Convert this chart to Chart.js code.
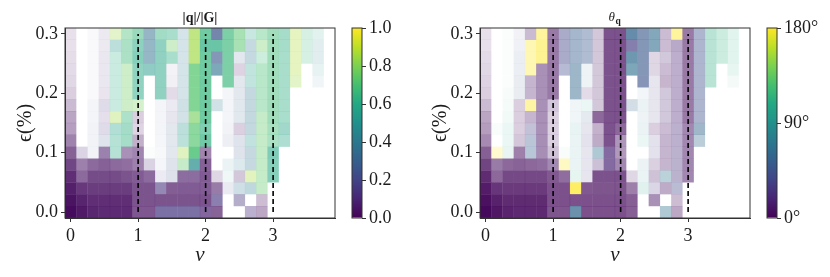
<!DOCTYPE html>
<html><head><meta charset="utf-8">
<script src="https://cdn.jsdelivr.net/npm/chart.js@4"></script>
<style>
html,body{margin:0;padding:0;background:#fff;width:830px;height:277px;overflow:hidden}
canvas{position:absolute;top:0}
</style></head><body>
<canvas id="c1" style="left:0" width="345" height="268"></canvas>
<canvas id="b1" style="left:340px" width="90" height="277"></canvas>
<canvas id="c2" style="left:415px" width="345" height="268"></canvas>
<canvas id="b2" style="left:755px" width="75" height="277"></canvas>
<script>
const _ = null;
const nuValues = [0,0.1667,0.3333,0.5,0.6667,0.8333,1,1.1667,1.3333,1.5,1.6667,1.8333,2,2.1667,2.3333,2.5,2.6667,2.8333,3,3.1667,3.3333,3.5,3.6667,3.8333];
const epsValues = [0.30,0.28,0.26,0.24,0.22,0.20,0.18,0.16,0.14,0.12,0.10,0.08,0.06,0.04,0.02,0.00];
const nuTicks = [0,1,2,3];
const epsTicks = [0,0.1,0.2,0.3];
const epsilonHalfStep = 0.01;
const dashedNu = [1,2,3];
const dashedEps = [0,0.3];

// |q|/|G| in hundredths, top row (epsilon = 0.30) first
const ratioValues = [
[3,_,10,10,85,70,65,36,64,62,40,85,65,25,66,72,57,70,68,62,87,66,57,_],
[3,_,10,10,52,67,60,37,58,77,40,85,62,62,66,72,40,77,68,62,87,66,42,_],
[3,_,10,10,63,67,60,37,58,62,40,85,65,27,66,25,40,66,68,62,87,66,42,_],
[3,_,10,10,63,77,60,53,58,10,40,72,65,38,66,3,55,70,68,62,87,_,45,_],
[3,_,10,10,63,77,60,_,58,10,40,72,65,_,66,25,55,70,68,62,85,_,42,_],
[3,_,10,10,63,77,60,_,58,3,40,72,65,_,25,25,38,70,68,62,_,_,_,_],
[3,_,25,12,63,77,78,_,25,15,40,72,65,42,25,32,38,70,68,62,_,_,_,_],
[3,_,25,12,85,65,3,_,25,15,40,78,65,_,25,32,38,74,68,62,_,_,_,_],
[3,_,25,12,58,63,5,_,25,25,52,72,63,_,25,5,38,74,68,58,_,_,_,_],
[3,_,25,25,60,63,3,_,25,25,55,72,63,_,25,25,53,74,68,58,_,_,_,_],
[3,12,25,6,60,5,6,50,25,25,85,70,3,_,_,25,38,74,60,_,_,_,_,_],
[3,4,4,4,4,4,4,10,25,25,74,48,4,_,42,42,38,74,60,_,_,_,_,_],
[3,4,3,3,3,3,4,4,15,25,5,5,4,5,50,5,87,74,60,_,_,_,_,_],
[3,3,3,3,3,3,3,3,15,4,4,4,4,4,20,40,42,74,_,_,_,_,_,_],
[3,3,3,3,3,3,3,3,3,3,3,3,3,15,_,15,_,3,_,_,_,_,_,_],
[3,3,3,3,3,3,3,3,15,15,15,15,8,4,_,_,12,3,_,_,_,_,_,_]
];
// share of the domain showing this value, in percent
const ratioShare = [
[12,0,3,10,27,40,50,50,45,40,20,63,70,70,65,50,25,38,48,42,30,20,13,0],
[12,0,3,10,30,42,52,50,50,33,20,63,70,70,65,50,28,33,48,42,30,20,14,0],
[14,0,3,11,25,42,55,50,50,40,20,63,70,62,65,14,28,25,48,40,30,20,14,0],
[15,0,3,11,25,33,50,50,50,6,20,70,70,62,65,18,28,38,48,40,30,0,11,0],
[16,0,3,11,25,33,50,0,50,7,20,70,70,0,65,14,28,38,48,40,28,0,7,0],
[20,0,3,12,25,33,50,0,50,15,20,70,70,0,6,14,28,38,48,40,0,0,0,0],
[28,0,6,17,25,33,30,0,6,11,22,70,70,22,6,15,28,38,48,40,0,0,0,0],
[37,0,6,15,32,40,20,0,6,13,21,60,70,0,6,15,28,35,48,40,0,0,0,0],
[40,0,7,17,35,43,18,0,6,14,30,65,60,0,7,20,28,35,45,42,0,0,0,0],
[51,0,7,16,33,42,33,0,5,14,30,65,67,0,9,16,28,35,42,37,0,0,0,0],
[65,20,7,54,33,47,52,2,4,14,32,80,50,0,0,16,27,35,58,0,0,0,0,0],
[76,53,62,66,62,60,53,20,5,16,35,70,66,0,9,16,27,35,55,0,0,0,0,0],
[86,62,74,74,74,71,68,62,10,17,62,62,68,17,7,24,32,35,55,0,0,0,0,0],
[92,82,80,80,80,80,71,71,58,67,68,68,68,55,11,23,30,35,0,0,0,0,0,0],
[97,90,86,86,86,86,71,71,71,71,71,71,71,63,0,40,0,27,0,0,0,0,0,0],
[100,94,89,87,87,87,69,69,70,70,70,70,68,65,0,0,37,36,0,0,0,0,0,0]
];
// theta_q in degrees
const angleValues = [
[5,_,90,27,5,180,5,36,54,49,9,4,4,59,49,63,7,180,5,45,113,113,113,_],
[5,_,90,45,180,180,5,36,54,49,9,4,4,31,49,63,7,14,5,45,113,113,113,_],
[5,_,90,49,180,180,5,36,54,49,9,4,4,63,49,9,18,18,5,45,113,113,113,_],
[5,_,90,49,180,9,5,40,59,68,9,4,4,67,49,9,7,18,5,45,113,_,113,_],
[5,_,90,49,7,9,5,_,59,68,9,4,4,_,45,31,5,18,5,45,113,_,113,_],
[5,_,113,49,7,9,5,_,59,5,9,4,4,_,63,31,18,18,5,45,_,_,_,_],
[5,_,108,5,180,9,14,_,68,108,9,4,4,59,76,31,18,18,5,45,_,_,_,_],
[5,_,108,5,7,9,9,_,68,50,5,4,4,_,72,31,18,18,5,45,_,_,_,_],
[5,108,108,5,32,9,9,_,90,31,7,4,5,_,76,5,7,20,7,59,_,_,_,_],
[5,_,108,5,50,9,9,_,80,31,7,4,7,_,108,31,7,20,7,59,_,_,_,_],
[4,180,99,5,54,9,9,90,80,31,68,18,5,_,_,31,7,23,7,_,_,_,_,_],
[4,7,5,5,5,5,9,180,80,31,14,18,7,_,76,9,7,23,7,_,_,_,_,_],
[4,5,4,4,4,4,4,5,108,31,4,4,4,9,80,9,68,23,7,_,_,_,_,_],
[4,4,4,4,4,4,4,4,180,4,4,4,4,4,99,27,7,36,_,_,_,_,_,_],
[4,4,4,4,4,4,4,4,4,4,4,4,4,4,_,9,_,5,_,_,_,_,_,_],
[4,4,4,4,4,4,4,4,59,4,4,4,4,4,_,_,63,5,_,_,_,_,_,_]
];
const angleShare = [
[12,0,2,7,28,45,55,45,45,40,24,70,70,75,62,60,28,45,55,42,33,24,14,0],
[12,0,2,8,35,50,55,45,45,40,24,70,70,65,62,60,28,38,55,42,33,24,14,0],
[15,0,2,10,35,50,55,45,45,40,24,70,70,70,62,17,25,37,55,42,33,24,14,0],
[16,0,2,10,35,47,55,38,48,8,24,70,70,62,62,17,28,37,55,42,33,0,11,0],
[18,0,2,11,31,47,55,0,48,8,24,70,70,0,62,13,30,37,55,42,33,0,6,0],
[20,0,4,11,31,47,55,0,48,15,24,70,70,0,6,13,25,37,55,42,0,0,0,0],
[28,0,5,20,42,47,25,0,7,9,24,70,70,22,9,13,25,37,55,42,0,0,0,0],
[37,0,6,20,31,47,20,0,7,13,62,70,70,0,8,13,25,37,55,42,0,0,0,0],
[40,3,9,20,32,47,20,0,10,13,32,70,62,0,9,20,28,37,50,47,0,0,0,0],
[48,0,9,23,35,48,20,0,9,14,35,70,44,0,9,15,31,37,50,33,0,0,0,0],
[65,22,10,52,35,48,26,3,9,13,38,68,42,0,0,15,31,37,50,0,0,0,0,0],
[76,55,62,64,62,60,50,28,9,13,28,68,50,0,9,20,31,37,50,0,0,0,0,0],
[86,62,74,74,74,74,68,60,11,13,70,70,70,17,9,26,32,37,50,0,0,0,0,0],
[92,82,80,80,80,80,71,71,70,68,69,69,69,52,14,20,35,36,0,0,0,0,0,0],
[97,90,86,86,86,86,71,71,71,71,71,71,71,65,0,47,0,27,0,0,0,0,0,0],
[100,94,89,87,87,87,69,69,72,71,71,71,71,65,0,0,38,36,0,0,0,0,0,0]
];
const ratioBarTicks = [0,0.2,0.4,0.6,0.8,1];
const angleBarTicks = [0,90,180];

const viridis = ['#440154','#482475','#414487','#355f8d','#2a788e','#21918c','#22a884','#44bf70','#7ad151','#bddf26','#fde725'];
const hex = h => [1,3,5].map(i => parseInt(h.substr(i,2),16));
function cmap(t, alpha){
  const p = Math.max(0,Math.min(1,t))*(viridis.length-1), i = Math.min(Math.floor(p),viridis.length-2), f = p-i;
  const a = hex(viridis[i]), b = hex(viridis[i+1]);
  const c = a.map((v,k)=>Math.round(v+(b[k]-v)*f));
  return `rgba(${c[0]},${c[1]},${c[2]},${alpha})`;
}
const FONT = "'Liberation Serif', serif";
const INK = '#1c1c1c';

const framePlugin = {id:'frame', afterDatasetsDraw(ch){
  const a = ch.chartArea, g = ch.ctx;
  g.save(); g.strokeStyle='#333'; g.lineWidth=1;
  g.strokeRect(a.left,a.top,a.right-a.left,a.bottom-a.top); g.restore();
}};

function heatmap(id, values, share, scale, titleCfg, extraPlugins){
  const cells=[], colors=[];
  values.forEach((row,r)=>row.forEach((v,c)=>{
    if(v===null || share[r][c]===0) return;
    cells.push({x:nuValues[c], y:[epsValues[r]-epsilonHalfStep, epsValues[r]+epsilonHalfStep]});
    colors.push(cmap(v/scale, share[r][c]/100));
  }));
  const lines = dashedNu.map(n=>({type:'line', data:dashedEps.map(e=>({x:n,y:e})), borderColor:'#000', borderWidth:1.6, borderDash:[5,3], pointRadius:0, fill:false, order:0}));
  return new Chart(document.getElementById(id),{
    type:'bar',
    data:{datasets:[{data:cells, backgroundColor:colors, borderWidth:0, barPercentage:1, categoryPercentage:1, grouped:false, inflateAmount:0.1, order:1}, ...lines]},
    options:{
      responsive:false, animation:false, events:[],
      layout:{padding:{left:14,right:10,top:titleCfg.display?0:28,bottom:0}},
      plugins:{legend:{display:false},tooltip:{enabled:false},title:titleCfg},
      scales:{
        x:{type:'linear',offset:false,min:-0.0833,max:3.9167,
          afterFit(s){s.height=50;},
          afterBuildTicks(s){s.ticks=nuTicks.map(v=>({value:v}));},
          grid:{offset:false,drawOnChartArea:false,drawTicks:true,tickLength:4,color:'#333'},
          border:{display:true,color:'#333'},
          ticks:{autoSkip:false,maxRotation:0,padding:3,color:INK,font:{family:FONT,size:18},callback:v=>String(v)},
          title:{display:true,text:'ν',color:INK,font:{family:FONT,size:21,style:'italic'},padding:{top:0,bottom:0}}
        },
        y:{type:'linear',min:-0.01,max:0.31,
          afterFit(s){s.width=51;},
          afterBuildTicks(s){s.ticks=epsTicks.map(v=>({value:v}));},
          grid:{drawOnChartArea:false,drawTicks:true,tickLength:4,color:'#333'},
          border:{display:true,color:'#333'},
          ticks:{padding:3,color:INK,font:{family:FONT,size:18},callback:v=>v.toFixed(1)},
          title:{display:true,text:'ϵ(%)',color:INK,font:{family:FONT,size:20},padding:{top:0,bottom:0}}
        }
      }
    },
    plugins:[framePlugin,...(extraPlugins||[])]
  });
}

function colorbar(id, scaleMax, ticks, fmt, axisW, left){
  return new Chart(document.getElementById(id),{
    type:'bar',
    data:{labels:[''],datasets:[{data:[[0,scaleMax]],borderWidth:0,barPercentage:1,categoryPercentage:1,inflateAmount:0,
      backgroundColor(ctx){
        const a=ctx.chart.chartArea; if(!a) return viridis[0];
        const g=ctx.chart.ctx.createLinearGradient(0,a.bottom,0,a.top);
        viridis.forEach((c,i)=>g.addColorStop(i/(viridis.length-1),c));
        return g;
      }}]},
    options:{
      responsive:false,animation:false,events:[],
      layout:{padding:{left:left,top:28,bottom:59,right:0}},
      plugins:{legend:{display:false},tooltip:{enabled:false}},
      scales:{
        x:{display:false},
        y:{position:'right',min:0,max:scaleMax,
          afterFit(s){s.width=axisW;},
          afterBuildTicks(s){s.ticks=ticks.map(v=>({value:v}));},
          grid:{drawOnChartArea:false,drawTicks:true,tickLength:4,color:'#333'},
          border:{display:false},
          ticks:{padding:3,color:INK,font:{family:FONT,size:18},callback:fmt}
        }
      }
    },
    plugins:[framePlugin]
  });
}

const thetaTitle = {id:'thetaTitle', afterDraw(ch){
  const g=ch.ctx, cx=(ch.chartArea.left+ch.chartArea.right)/2;
  g.save(); g.fillStyle=INK; g.textBaseline='alphabetic'; g.textAlign='left';
  g.font=`italic 13px ${FONT}`; g.fillText('θ',cx-6.5,21);
  g.font=`bold 9.5px ${FONT}`; g.fillText('q',cx+0.5,24);
  g.restore();
}};

heatmap('c1', ratioValues, ratioShare, 100,
  {display:true,text:'|q|/|G|',fullSize:false,color:INK,font:{family:FONT,size:14,weight:'bold',lineHeight:1.2},padding:{top:9.6,bottom:1.6}});
heatmap('c2', angleValues, angleShare, 180, {display:false}, [thetaTitle]);
colorbar('b1', 1, ratioBarTicks, v=>v.toFixed(1), 68, 12);
colorbar('b2', 180, angleBarTicks, v=>v+'°', 53, 12);
</script>
</body></html>
